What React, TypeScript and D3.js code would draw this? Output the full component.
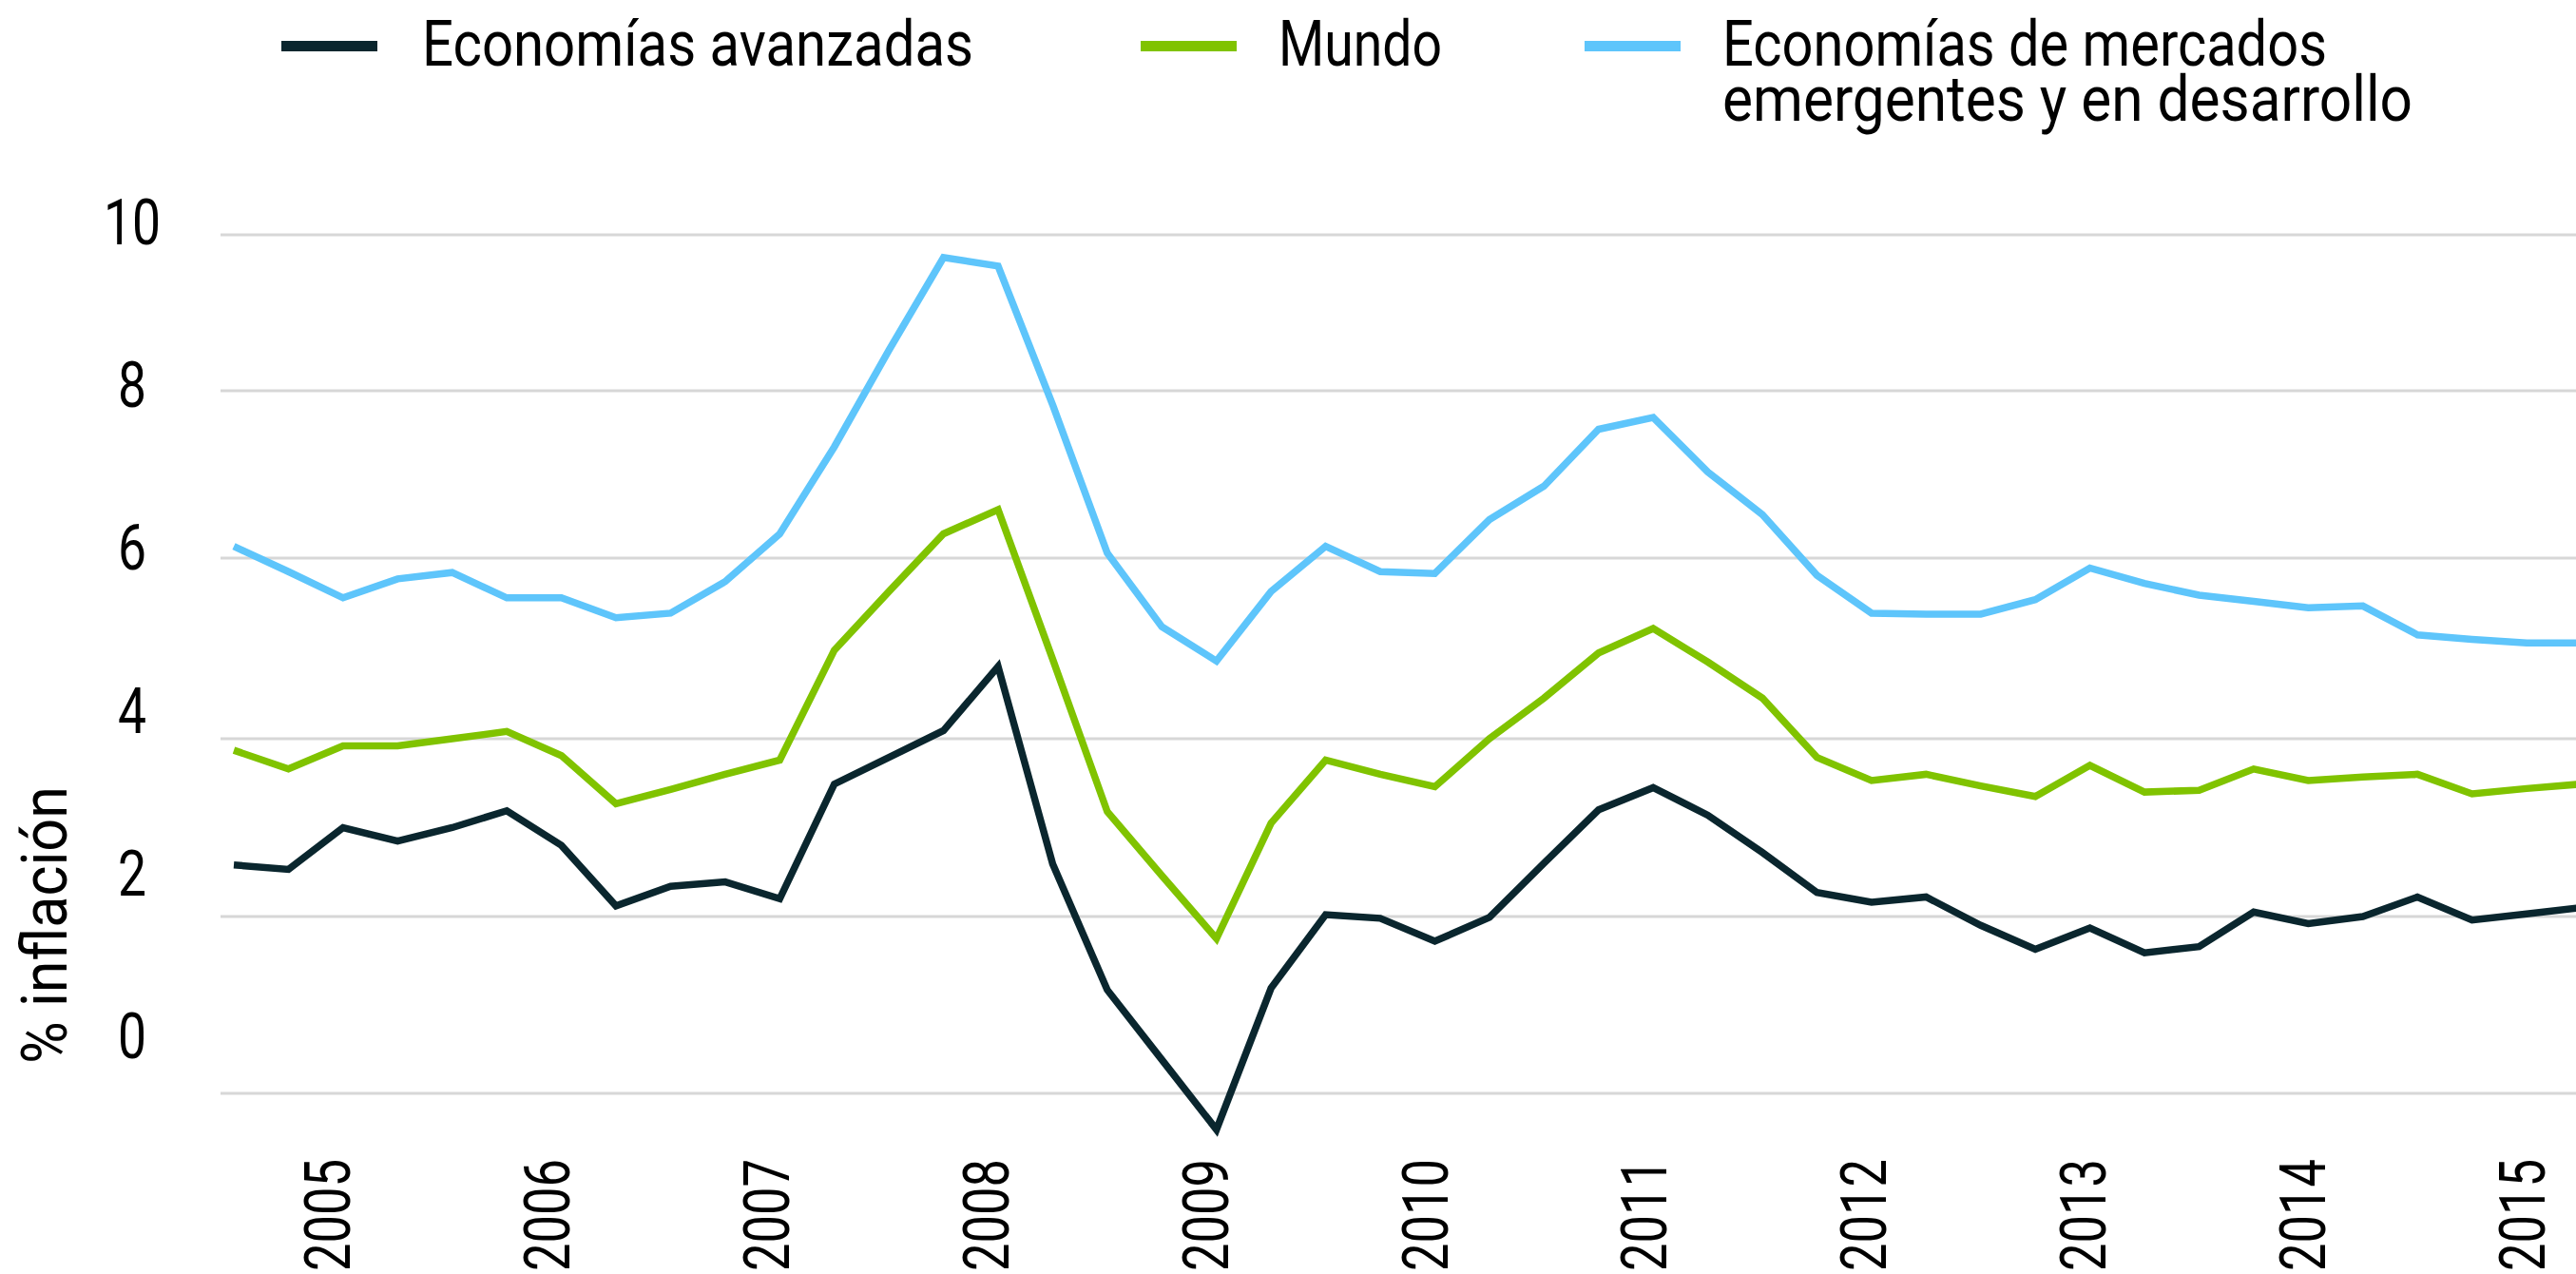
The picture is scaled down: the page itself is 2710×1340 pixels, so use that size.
import React from "react";
import * as d3 from "d3";

// Quarterly observations (third quarter of 2004 onwards)
const quarters: string[] = Array.from({ length: 44 }, (_, i) => {
  const y = 2004 + Math.floor((i + 2) / 4);
  const q = ((i + 2) % 4) + 1;
  return `${y}T${q}`;
});

const advanced = [2.58, 2.53, 3.0, 2.85, 3.0, 3.19, 2.8, 2.12, 2.34, 2.39, 2.2, 3.49, 3.79, 4.09, 4.8, 2.59, 1.17, 0.38, -0.41, 1.19, 2.02,
  1.98, 1.72, 1.99, 2.6, 3.2, 3.45, 3.14, 2.72, 2.27, 2.16, 2.22, 1.9, 1.63, 1.87, 1.59, 1.66, 2.05, 1.92, 2.0, 2.22, 1.96, 2.03, 2.1];
const world = [3.87, 3.66, 3.92, 3.92, 4.0, 4.08, 3.81, 3.27, 3.43, 3.6, 3.76, 4.98, 5.63, 6.29, 6.58, 4.88, 3.18, 2.46, 1.75, 3.05, 3.76,
  3.6, 3.46, 4.0, 4.45, 4.95, 5.22, 4.85, 4.45, 3.79, 3.53, 3.6, 3.47, 3.35, 3.7, 3.4, 3.42, 3.66, 3.53, 3.57, 3.6, 3.38, 3.44, 3.49];
const emerging = [6.14, 5.85, 5.56, 5.77, 5.84, 5.56, 5.56, 5.34, 5.39, 5.74, 6.29, 7.33, 8.52, 9.71, 9.6, 7.83, 6.06, 5.24, 4.86, 5.63, 6.14,
  5.85, 5.83, 6.46, 6.86, 7.54, 7.68, 7.03, 6.52, 5.81, 5.39, 5.38, 5.38, 5.54, 5.89, 5.72, 5.59, 5.52, 5.45, 5.47, 5.15, 5.1, 5.06, 5.06];

const yTicks = [0, 2, 4, 6, 8, 10];
const yearLabels = [2005, 2006, 2007, 2008, 2009, 2010, 2011, 2012, 2013, 2014, 2015];

const seriesNames = ["Economías avanzadas", "Mundo", "Economías de mercados emergentes y en desarrollo"];
const colors = ["#0a262e", "#80c300", "#5ec5fb"];

const W = 2710;
const H = 1340;
const FONT = "Roboto, 'Noto Sans', sans-serif";
const FS = 67;

export default function App() {
  const x = d3
    .scaleLinear()
    .domain([0, quarters.length - 1])
    .range([246, 246 + 57.43 * (quarters.length - 1)]);
  const y = d3.scaleLinear().domain([0, 2, 4, 6, 8, 10]).range([1150, 964, 777, 587, 411, 247]);
  const yLabel = d3.scaleLinear().domain([0, 10]).range([1113, 257]);
  const xLabel = d3.scaleLinear().domain([2005, 2015]).range([344, 2653]);

  const line = d3
    .line<number>()
    .x((_, i) => x(i))
    .y((d) => y(d));

  const data = [advanced, world, emerging];

  return (
    <svg width={W} height={H} style={{ position: "absolute", left: 0, top: 0, background: "#fff" }} fontFamily={FONT}>
      <rect x={0} y={0} width={W} height={H} fill="#fff" />
      {/* gridlines */}
      {yTicks.map((t) => (
        <line key={t} x1={232} x2={W} y1={y(t)} y2={y(t)} stroke="#d7d7d7" strokeWidth={3} />
      ))}
      {/* y tick labels */}
      {yTicks.map((t) => (
        <text
          key={t}
          x={139}
          y={yLabel(t)}
          fontSize={FS}
          textAnchor="middle"
          fill="#000"
          textLength={String(t).length * 30}
          lengthAdjust="spacingAndGlyphs"
        >
          {t}
        </text>
      ))}
      {/* y title */}
      <text
        transform="translate(70,973) rotate(-90)"
        fontSize={FS}
        textAnchor="middle"
        fill="#000"
        textLength={292}
        lengthAdjust="spacingAndGlyphs"
      >
        % inflación
      </text>
      {/* x labels */}
      {yearLabels.map((yr) => (
        <text
          key={yr}
          transform={`translate(${xLabel(yr) + 24},1219) rotate(-90)`}
          fontSize={FS}
          textAnchor="end"
          fill="#000"
          textLength={118}
          lengthAdjust="spacingAndGlyphs"
        >
          {yr}
        </text>
      ))}
      {/* series */}
      {data.map((s, k) => (
        <path
          key={k}
          d={line(s) || ""}
          fill="none"
          stroke={colors[k]}
          strokeWidth={7.5}
          strokeLinejoin="miter"
          strokeLinecap="butt"
        />
      ))}
      {/* legend */}
      <rect x={296} y={43} width={101} height={11} fill={colors[0]} />
      <text x={444} y={69} fontSize={FS} fill="#000" textLength={580} lengthAdjust="spacingAndGlyphs">
        {seriesNames[0]}
      </text>
      <rect x={1200} y={43} width={101} height={11} fill={colors[1]} />
      <text x={1345} y={69} fontSize={FS} fill="#000" textLength={172} lengthAdjust="spacingAndGlyphs">
        {seriesNames[1]}
      </text>
      <rect x={1667} y={43} width={101} height={11} fill={colors[2]} />
      <text x={1812} y={69} fontSize={FS} fill="#000" textLength={636} lengthAdjust="spacingAndGlyphs">
        Economías de mercados
      </text>
      <text x={1812} y={127} fontSize={FS} fill="#000" textLength={726} lengthAdjust="spacingAndGlyphs">
        emergentes y en desarrollo
      </text>
    </svg>
  );
}
